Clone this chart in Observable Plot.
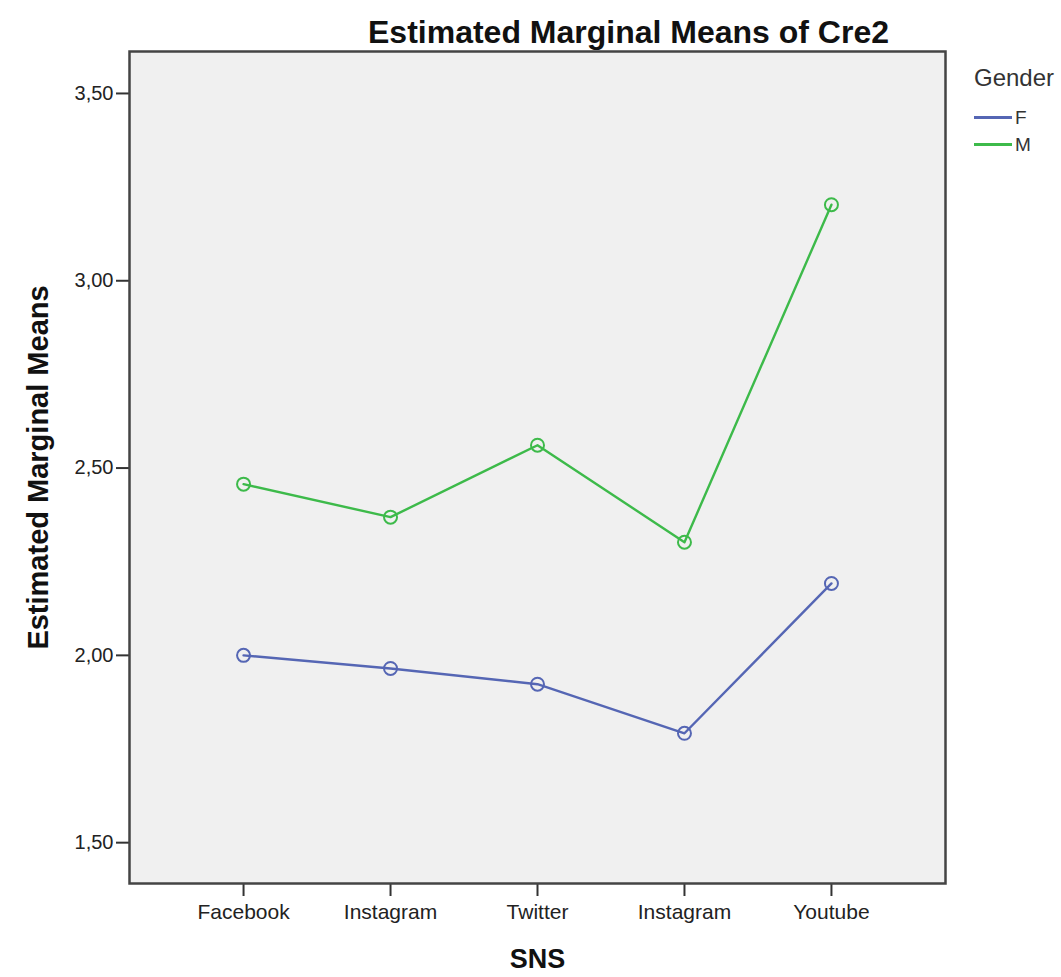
<!DOCTYPE html>
<html>
<head>
<meta charset="utf-8">
<script src="https://cdn.jsdelivr.net/npm/d3@7"></script>
<script src="https://cdn.jsdelivr.net/npm/@observablehq/plot@0.6"></script>
<style>
  html, body { margin: 0; padding: 0; background: white; }
  #wrap { position: relative; width: 1061px; height: 977px; font-family: "Liberation Sans", Arial, sans-serif; }
  #title { position: absolute; left: 0; width: 1257px; top: 14px; text-align: center; font-size: 32px; font-weight: bold; color: #111; }
  #legend { position: absolute; left: 974px; top: 64px; color: #333; }
  #legend .lt { font-size: 24px; margin-bottom: 12px; }
  #legend .row { display: flex; align-items: center; height: 27px; font-size: 19px; }
  #legend .sw { width: 38px; height: 2.5px; margin-right: 3px; }
</style>
</head>
<body>
<div id="wrap">
  <div id="chart"></div>
  <div id="title">Estimated Marginal Means of Cre2</div>
  <div id="legend"></div>
</div>
<script>
const categories = ["Facebook", "Instagram", "Twitter", "Instagram", "Youtube"];
const genders = ["F", "M"];
const femaleMeans = [2.000, 1.965, 1.923, 1.792, 2.192];
const maleMeans = [2.457, 2.369, 2.561, 2.302, 3.203];
const yTicks = [1.5, 2.0, 2.5, 3.0, 3.5];
const colors = ["#5566b4", "#3dba4a"];

const idx = categories.map((_, i) => i);
const data = [];
idx.forEach(i => data.push({i, gender: "F", mean: femaleMeans[i]}));
idx.forEach(i => data.push({i, gender: "M", mean: maleMeans[i]}));

const fmt = v => d3.format(".2f")(v).replace(".", ",");

const chart = Plot.plot({
  width: 1061,
  height: 977,
  marginLeft: 129,
  marginRight: 116,
  marginTop: 51,
  marginBottom: 94,
  style: { background: "white", fontFamily: "Liberation Sans, Arial, sans-serif", color: "#222" },
  x: { type: "linear", domain: [-0.776, 4.776] },
  y: { domain: [1.391, 3.612] },
  color: { domain: genders, range: colors },
  marks: [
    Plot.frame({ fill: "#f0f0f0" }),
    Plot.axisX({ ticks: idx, tickFormat: i => categories[i], tickSize: 13, tickPadding: 8, fontSize: 21, label: null, strokeWidth: 2, stroke: "#333" }),
    Plot.axisY({ ticks: yTicks, tickFormat: fmt, tickSize: 13, tickPadding: 3, fontSize: 20, label: null, strokeWidth: 2, stroke: "#333" }),
    Plot.line(data, { x: "i", y: "mean", z: "gender", stroke: "gender", strokeWidth: 2.4 }),
    Plot.dot(data, { x: "i", y: "mean", stroke: "gender", r: 6.5, strokeWidth: 2, fill: "none" }),
    Plot.frame({ stroke: "#444", strokeWidth: 2.5 }),
    Plot.text(["Estimated Marginal Means"], { frameAnchor: "left", textAnchor: "middle", rotate: -90, dx: -91, fontSize: 29, fontWeight: "bold", fill: "#111" }),
    Plot.text(["SNS"], { frameAnchor: "bottom", dy: 84, fontSize: 27, fontWeight: "bold", fill: "#111" })
  ]
});
document.getElementById("chart").appendChild(chart);

const legend = document.getElementById("legend");
legend.innerHTML = `<div class="lt">Gender</div>` +
  genders.map((g, k) => `<div class="row"><div class="sw" style="background:${colors[k]}"></div><span>${g}</span></div>`).join("");
</script>
</body>
</html>
